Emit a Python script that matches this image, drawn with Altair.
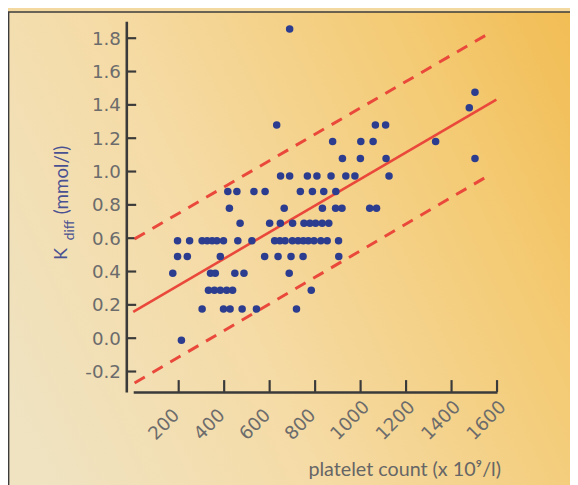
import altair as alt
import pandas as pd

# ---- data ----
row_y = [1.855, 1.476, 1.382, 1.279, 1.18, 1.078, 0.973, 0.88, 0.78, 0.69, 0.585, 0.49, 0.39, 0.287, 0.175, -0.013]
row_x = [
    [688],
    [1503],
    [1478],
    [631, 1065, 1110],
    [877, 1001, 1055, 1330],
    [920, 999, 1112, 1503],
    [648, 688, 766, 808, 870, 935, 975, 1125],
    [416, 456, 531, 580, 735, 788, 838, 891],
    [423, 664, 832, 890, 918, 1040, 1070],
    [470, 600, 647, 701, 751, 777, 802, 831, 860],
    [195, 248, 303, 325, 347, 368, 397, 460, 522, 622, 645, 668, 700, 725, 748, 770, 795, 825, 853, 903],
    [195, 238, 383, 578, 637, 694, 747, 904],
    [174, 340, 361, 447, 487, 686],
    [331, 357, 383, 411, 437, 783],
    [303, 397, 426, 479, 542, 718],
    [212],
]

fit_x = [0, 1597]
fit_y = [0.158, 1.432]
upper_x = [6, 1580]
upper_y = [0.596, 1.841]
lower_x = [6, 1572]
lower_y = [-0.269, 0.983]

x_ticks = [200, 400, 600, 800, 1000, 1200, 1400, 1600]
y_ticks = [-0.2, 0.0, 0.2, 0.4, 0.6, 0.8, 1.0, 1.2, 1.4, 1.6, 1.8]

# ---- tables ----
pts = pd.DataFrame(
    [{"x": xv, "y": yv} for yv, xs in zip(row_y, row_x) for xv in xs]
)
lines = pd.DataFrame(
    [{"x": a, "y": b, "s": "fit"} for a, b in zip(fit_x, fit_y)]
    + [{"x": a, "y": b, "s": "upper"} for a, b in zip(upper_x, upper_y)]
    + [{"x": a, "y": b, "s": "lower"} for a, b in zip(lower_x, lower_y)]
)
xt = pd.DataFrame({"x": x_ticks})
yt = pd.DataFrame({"y": y_ticks})
one = pd.DataFrame({"a": [0]})

W, H = 369, 376
RED = "#e9483b"
AX = "#3a3a3a"
LBL = "#6c6c6c"

xscale = alt.Scale(domain=[0, 1600], nice=False, zero=False)
yscale = alt.Scale(domain=[-0.3225, 1.902], nice=False, zero=False)

xaxis = alt.Axis(
    values=x_ticks, ticks=False, grid=False, title=None, zindex=1,
    domainColor=AX, domainWidth=2.6, format="d",
    labelAngle=-45, labelAlign="left", labelBaseline="middle",
    labelOffset=-28, labelPadding=45, labelOverlap=False, labelBound=False,
    labelFont="DejaVu Sans", labelFontSize=18.5, labelColor=LBL,
)
yaxis = alt.Axis(
    values=y_ticks, ticks=False, grid=False, title=None, zindex=1,
    domainColor=AX, domainWidth=2.6, offset=7,
    labelPadding=6, labelOverlap=False,
    labelExpr="replace(format(datum.value, '.1f'), '\u2212', '-')",
    labelFont="DejaVu Sans", labelFontSize=18.5, labelColor=LBL,
)

bg = alt.Chart(one).mark_rect(
    fill=alt.LinearGradient(
        gradient="linear",
        stops=[
            alt.GradientStop(color="#efe3c2", offset=0),
            alt.GradientStop(color="#f5dba6", offset=0.35),
            alt.GradientStop(color="#f4cc78", offset=0.7),
            alt.GradientStop(color="#f1ba4d", offset=1),
        ],
        x1=0, y1=0.7, x2=1, y2=0.3,
    ),
    stroke="#3c3c3c", strokeWidth=1.6,
).encode(
    x=alt.value(-126.4), x2=alt.value(W + 200),
    y=alt.value(-9.4), y2=alt.value(H + 200),
)

ytick_layer = alt.Chart(yt).mark_rule(color=AX, strokeWidth=2.2).encode(
    y=alt.Y("y:Q", scale=yscale, axis=yaxis),
    x=alt.value(-7), x2=alt.value(3),
)
xtick_layer = alt.Chart(xt).mark_rule(color=AX, strokeWidth=2.2).encode(
    x=alt.X("x:Q", scale=xscale, axis=xaxis),
    y=alt.value(H - 12), y2=alt.value(H),
)

fit = alt.Chart(lines).transform_filter(alt.datum.s == "fit").mark_line(
    color=RED, strokeWidth=2.6
).encode(
    x=alt.X("x:Q", scale=xscale, axis=xaxis),
    y=alt.Y("y:Q", scale=yscale, axis=yaxis),
)
band = alt.Chart(lines).transform_filter(alt.datum.s != "fit").mark_line(
    color=RED, strokeWidth=3, strokeDash=[12, 9]
).encode(
    x=alt.X("x:Q", scale=xscale, axis=xaxis),
    y=alt.Y("y:Q", scale=yscale, axis=yaxis),
    detail="s:N",
)

points = alt.Chart(pts).mark_circle(size=58, color="#2c3d8f", opacity=1).encode(
    x=alt.X("x:Q", scale=xscale, axis=xaxis),
    y=alt.Y("y:Q", scale=yscale, axis=yaxis),
)

TITLE_C = "#4a5192"
t_k = alt.Chart(one).mark_text(
    text="K", angle=270, font="Lato", fontSize=18, color=TITLE_C,
    align="center", baseline="middle",
).encode(x=alt.value(-72), y=alt.value(236))
t_diff = alt.Chart(one).mark_text(
    text="diff", angle=270, font="Lato", fontSize=14, color=TITLE_C,
    align="center", baseline="middle",
).encode(x=alt.value(-64), y=alt.value(212))
t_unit = alt.Chart(one).mark_text(
    text="(mmol/l)", angle=270, font="Lato", fontSize=19, color=TITLE_C,
    align="center", baseline="middle",
).encode(x=alt.value(-72), y=alt.value(161))

x_title = alt.Chart(one).mark_text(
    text="platelet count (x 10\u2079/l)", font="Lato", fontSize=20,
    color="#666666", align="right", baseline="middle",
).encode(x=alt.value(W + 4), y=alt.value(H + 79))

chart = alt.layer(
    bg, ytick_layer, xtick_layer, band, fit, points, t_k, t_diff, t_unit, x_title
).properties(
    width=W, height=H,
    padding={"left": 127, "top": 10, "right": 74, "bottom": 91},
    autosize=alt.AutoSizeParams(type="none"),
    background="#f3d9a0",
).configure_view(stroke=None)

chart.save("out.html", embed_options={"renderer": "svg", "actions": False})
